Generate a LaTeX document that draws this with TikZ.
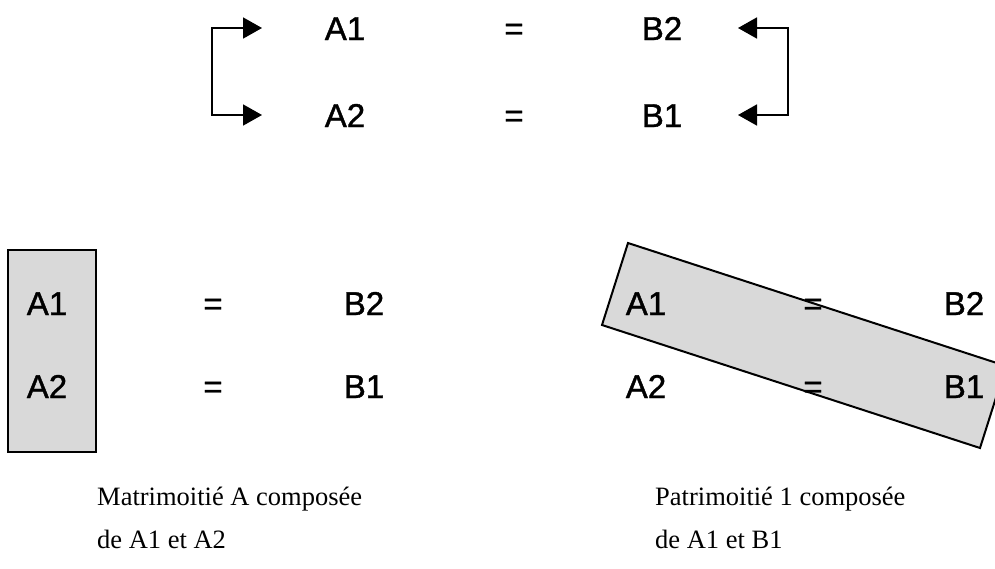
\documentclass[tikz,border=0pt]{standalone}
\usepackage{fontspec}
\setmainfont{Liberation Serif}
\newfontfamily\lblfont[FakeBold=1.2]{Liberation Sans}
\usetikzlibrary{arrows.meta}
\definecolor{boxgray}{HTML}{D9D9D9}
\tikzset{
  lbl/.style={font=\lblfont\fontsize{33}{33}\selectfont, inner sep=0pt, anchor=base},
  captxt/.style={font=\fontsize{26.5}{43}\selectfont, align=left, anchor=north west, inner sep=0pt},
  brk/.style={line width=1.8pt, {Triangle[length=19pt,width=21pt]}-{Triangle[length=19pt,width=21pt]}},
  grpbox/.style={draw, line width=2pt, fill=boxgray},
}
\begin{document}
\begin{tikzpicture}[x=1pt,y=-1pt]
\useasboundingbox (0,0) rectangle (995,568);
% top
\node[lbl] (tA1) at (345,40) {A1};
\node[lbl] (tE1) at (514,40) {=};
\node[lbl] (tB2) at (662,40) {B2};
\node[lbl] (tA2) at (345,127) {A2};
\node[lbl] (tE2) at (514,127) {=};
\node[lbl] (tB1) at (662,127) {B1};
\coordinate (lt1) at (262,28);
\coordinate (lt2) at (262,115);
\coordinate (lc1) at (212,28);
\coordinate (lc2) at (212,115);
\coordinate (rt1) at (738,28);
\coordinate (rt2) at (738,115);
\coordinate (rc1) at (788,28);
\coordinate (rc2) at (788,115);
\draw[brk] (lt1) -- (lc1) -- (lc2) -- (lt2);
\draw[brk] (rt1) -- (rc1) -- (rc2) -- (rt2);
% bottom left
\draw[grpbox] (8,250) rectangle (96,452);
\node[lbl] (lA1) at (47,315) {A1};
\node[lbl] (lE1) at (213,315) {=};
\node[lbl] (lB2) at (364,315) {B2};
\node[lbl] (lA2) at (47,398) {A2};
\node[lbl] (lE2) at (213,398) {=};
\node[lbl] (lB1) at (364,398) {B1};
% bottom right
\draw[grpbox] (628,243) -- (1006,366) -- (980,448) -- (602,325) -- cycle;
\node[lbl] (rA1) at (646,315) {A1};
\node[lbl] (rE1) at (813,315) {=};
\node[lbl] (rB2) at (964,315) {B2};
\node[lbl] (rA2) at (646,398) {A2};
\node[lbl] (rE2) at (813,398) {=};
\node[lbl] (rB1) at (964,398) {B1};
% captions
\node[captxt] (capL) at (97,487) {Matrimoitié A composée\\de A1 et A2};
\node[captxt] (capR) at (655,487) {Patrimoitié 1 composée\\de A1 et B1};
\end{tikzpicture}
\end{document}
